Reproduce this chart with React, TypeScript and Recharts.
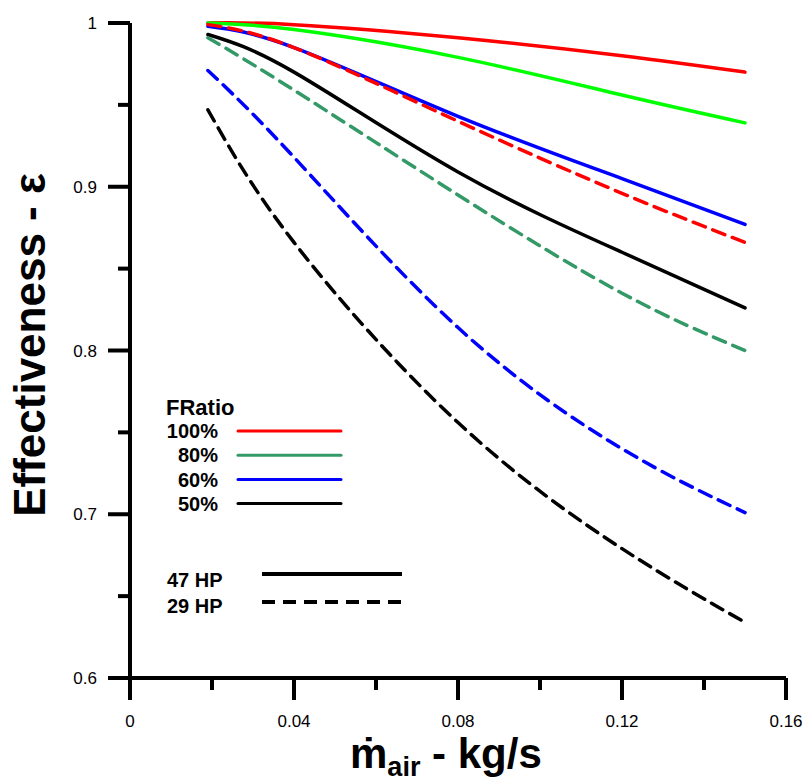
import React from 'react';
import { LineChart, Line, XAxis, YAxis } from 'recharts';

// Air mass flow (kg/s)
const mdot = [0.019, 0.04, 0.08, 0.12, 0.15];

// 47 HP (solid)
const hp47_100 = [1.0, 0.999, 0.991, 0.98, 0.97];
const hp47_80 = [1.0, 0.996, 0.979, 0.956, 0.939];
const hp47_60 = [0.998, 0.985, 0.943, 0.905, 0.877];
const hp47_50 = [0.993, 0.97, 0.909, 0.86, 0.826];

// 29 HP (dashed)
const hp29_100 = [0.999, 0.985, 0.94, 0.896, 0.866];
const hp29_80 = [0.991, 0.959, 0.895, 0.835, 0.8];
const hp29_60 = [0.971, 0.918, 0.814, 0.74, 0.701];
const hp29_50 = [0.947, 0.866, 0.756, 0.679, 0.634];

const xTicks = [0, 0.02, 0.04, 0.06, 0.08, 0.1, 0.12, 0.14, 0.16];
const yTicks = [0.6, 0.65, 0.7, 0.75, 0.8, 0.85, 0.9, 0.95, 1.0];

const fratioLabels = ['100%', '80%', '60%', '50%'];
const fratioColors = ['#ff0000', '#339966', '#0000ff', '#000000'];
const hpLabels = ['47 HP', '29 HP'];

const data = mdot.map((m, i) => ({
  m,
  s100: hp47_100[i],
  s80: hp47_80[i],
  s60: hp47_60[i],
  s50: hp47_50[i],
  d100: hp29_100[i],
  d80: hp29_80[i],
  d60: hp29_60[i],
  d50: hp29_50[i],
}));

const DASH = '13 8';

const series = [
  { key: 's100', color: '#ff0000', dash: undefined },
  { key: 's80', color: '#00ff00', dash: undefined },
  { key: 's60', color: '#0000ff', dash: undefined },
  { key: 's50', color: '#000000', dash: undefined },
  { key: 'd100', color: '#ff0000', dash: DASH },
  { key: 'd80', color: '#339966', dash: DASH },
  { key: 'd60', color: '#0000ff', dash: DASH },
  { key: 'd50', color: '#000000', dash: DASH },
];

const FONT = '"Liberation Sans", Arial, "DejaVu Sans", sans-serif';

const YTick = (props: any) => {
  const { x, y, payload } = props;
  const v = payload.value;
  const major = Math.round(v * 100) % 10 === 0;
  const len = major ? 22 : 12;
  return (
    <g>
      <line x1={x - len} y1={y} x2={x} y2={y} stroke="#000" strokeWidth={4} />
      {major && (
        <text x={x - 33} y={y} dy="0.36em" textAnchor="end" fontSize={17} fontFamily={FONT} fill="#000">
          {v === 1 ? '1' : v.toFixed(1)}
        </text>
      )}
    </g>
  );
};

const XTick = (props: any) => {
  const { x, y, payload } = props;
  const v = payload.value;
  const major = Math.round(v * 100) % 4 === 0;
  const len = major ? 22 : 12;
  return (
    <g>
      <line x1={x} y1={y} x2={x} y2={y + len} stroke="#000" strokeWidth={4} />
      {major && (
        <text x={x} y={y + 49} textAnchor="middle" fontSize={17} fontFamily={FONT} fill="#000">
          {v === 0 ? '0' : String(Number(v.toFixed(2)))}
        </text>
      )}
    </g>
  );
};

export default function App() {
  return (
    <div style={{ position: 'absolute', left: 0, top: 0, width: 804, height: 781, background: '#fff' }}>
      <LineChart
        width={804}
        height={781}
        data={data}
        margin={{ top: 23, right: 18, bottom: 73, left: 70 }}
      >
        <XAxis
          dataKey="m"
          type="number"
          domain={[0, 0.16]}
          ticks={xTicks}
          height={30}
          tickSize={0}
          tickMargin={0}
          tickLine={false}
          axisLine={{ stroke: '#000', strokeWidth: 4 }}
          tick={<XTick />}
          interval={0}
        />
        <YAxis
          type="number"
          domain={[0.6, 1]}
          ticks={yTicks}
          width={60}
          tickSize={0}
          tickMargin={0}
          tickLine={false}
          axisLine={{ stroke: '#000', strokeWidth: 4 }}
          tick={<YTick />}
          interval={0}
        />
        {series.map((s) => (
          <Line
            key={s.key}
            dataKey={s.key}
            type="natural"
            stroke={s.color}
            strokeWidth={3.5}
            strokeDasharray={s.dash}
            strokeLinecap="round"
            dot={false}
            activeDot={false}
            isAnimationActive={false}
          />
        ))}
      </LineChart>
      <svg
        width={804}
        height={781}
        style={{ position: 'absolute', left: 0, top: 0, pointerEvents: 'none' }}
      >
        <text
          x={45}
          y={345}
          transform="rotate(-90 45 345)"
          textAnchor="middle"
          fontSize={44}
          fontWeight="bold"
          fontFamily={FONT}
          fill="#000"
        >
          Effectiveness - ε
        </text>
        <text x={350} y={768} fontSize={42} fontWeight="bold" fontFamily={FONT} fill="#000">
          <tspan>ṁ</tspan>
          <tspan fontSize={27} dy={8}>air</tspan>
          <tspan dy={-8}> - kg/s</tspan>
        </text>
        <text x={166} y={415} fontSize={22} fontWeight="bold" fontFamily={FONT} fill="#000">
          FRatio
        </text>
        {fratioLabels.map((lab, i) => (
          <g key={lab}>
            <text
              x={218}
              y={438 + i * 24.3}
              textAnchor="end"
              fontSize={20}
              fontWeight="bold"
              fontFamily={FONT}
              fill="#000"
            >
              {lab}
            </text>
            <line
              x1={238}
              x2={341}
              y1={431 + i * 24.2}
              y2={431 + i * 24.2}
              stroke={fratioColors[i]}
              strokeWidth={3}
              strokeLinecap="round"
            />
          </g>
        ))}
        {hpLabels.map((lab, i) => (
          <g key={lab}>
            <text x={167} y={587 + i * 26} fontSize={20} fontWeight="bold" fontFamily={FONT} fill="#000">
              {lab}
            </text>
            <line
              x1={262}
              x2={402}
              y1={574 + i * 28}
              y2={574 + i * 28}
              stroke="#000"
              strokeWidth={4}
              strokeDasharray={i === 1 ? DASH : undefined}
            />
          </g>
        ))}
      </svg>
    </div>
  );
}
